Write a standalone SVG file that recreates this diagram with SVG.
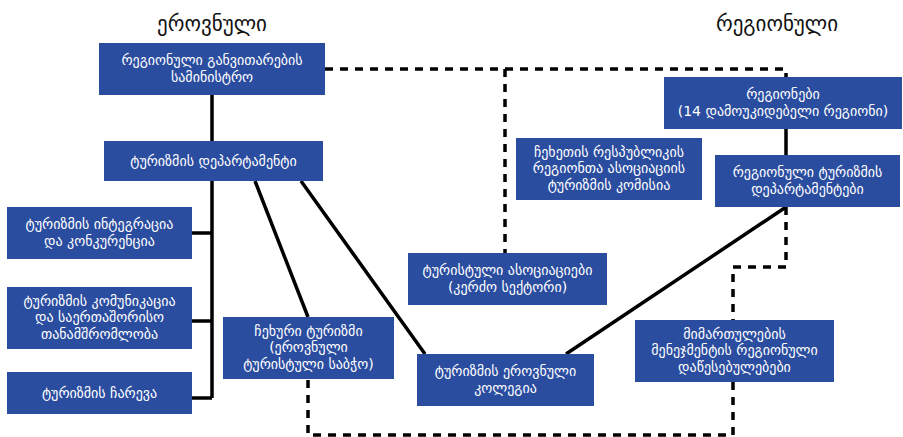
<svg xmlns="http://www.w3.org/2000/svg" width="903" height="437" viewBox="0 0 903 437">
<style>
.box{fill:#2B4D9F}
.t{font-family:"DejaVu Sans","Noto Sans",sans-serif;font-size:14px;fill:#fff;text-anchor:middle}
.title{font-family:"DejaVu Sans","Noto Sans",sans-serif;font-size:21px;fill:#111;text-anchor:middle}
.solid{stroke:#000;stroke-width:3.5;fill:none}
.dash{stroke:#000;stroke-width:3.5;fill:none;stroke-dasharray:8 7}
</style>
<rect width="903" height="437" fill="#fff"/>
<text class="title" x="212" y="31">ეროვნული</text>
<text class="title" x="777" y="31">რეგიონული</text>
<g id="connectors">
<path class="solid" d="M212 95V398M192 233H212M192 321H212M192 398H212"/>
<path class="solid" d="M255 181L308 317M301 181L425 354M566 354L786 207M786 129V155"/>
<path class="dash" d="M325 69H786V77M505 69V253M786 207V267H733V320M733 382V435H308V379"/>
</g>
<g id="n1"><rect class="box" x="99" y="43" width="226" height="52"/><text class="t" x="212" y="65">რეგიონული განვითარების</text><text class="t" x="212" y="82">სამინისტრო</text></g>
<g id="n2"><rect class="box" x="104" y="141" width="219" height="40"/><text class="t" x="213.5" y="166">ტურიზმის დეპარტამენტი</text></g>
<g id="n3"><rect class="box" x="7" y="207" width="185" height="52"/><text class="t" x="99.5" y="229">ტურიზმის ინტეგრაცია</text><text class="t" x="99.5" y="246">და კონკურენცია</text></g>
<g id="n4"><rect class="box" x="7" y="287" width="185" height="62"/><text class="t" x="99.5" y="305.5">ტურიზმის კომუნიკაცია</text><text class="t" x="99.5" y="322">და საერთაშორისო</text><text class="t" x="99.5" y="338.5">თანამშრომლობა</text></g>
<g id="n5"><rect class="box" x="7" y="372" width="185" height="42"/><text class="t" x="99.5" y="398">ტურიზმის ჩარევა</text></g>
<g id="n6"><rect class="box" x="223" y="317" width="171" height="62"/><text class="t" x="308.5" y="335.5">ჩეხური ტურიზმი</text><text class="t" x="308.5" y="352">(ეროვნული</text><text class="t" x="308.5" y="368.5">ტურისტული საბჭო)</text></g>
<g id="n7"><rect class="box" x="417" y="354" width="177" height="52"/><text class="t" x="505.5" y="376">ტურიზმის ეროვნული</text><text class="t" x="505.5" y="393">კოლეგია</text></g>
<g id="n8"><rect class="box" x="408" y="253" width="199" height="52"/><text class="t" x="507.5" y="275">ტურისტული ასოციაციები</text><text class="t" x="507.5" y="292">(კერძო სექტორი)</text></g>
<g id="n9"><rect class="box" x="516" y="138" width="186" height="62"/><text class="t" x="609" y="156.5">ჩეხეთის რესპუბლიკის</text><text class="t" x="609" y="173">რეგიონთა ასოციაციის</text><text class="t" x="609" y="189.5">ტურიზმის კომისია</text></g>
<g id="n10"><rect class="box" x="664" y="77" width="238" height="52"/><text class="t" x="783" y="99">რეგიონები</text><text class="t" x="783" y="116">(14 დამოუკიდებელი რეგიონი)</text></g>
<g id="n11"><rect class="box" x="715" y="155" width="185" height="52"/><text class="t" x="807.5" y="177">რეგიონული ტურიზმის</text><text class="t" x="807.5" y="194">დეპარტამენტები</text></g>
<g id="n12"><rect class="box" x="635" y="320" width="199" height="62"/><text class="t" x="734.5" y="338.5">მიმართულების</text><text class="t" x="734.5" y="355">მენეჯმენტის რეგიონული</text><text class="t" x="734.5" y="371.5">დაწესებულებები</text></g>
</svg>
